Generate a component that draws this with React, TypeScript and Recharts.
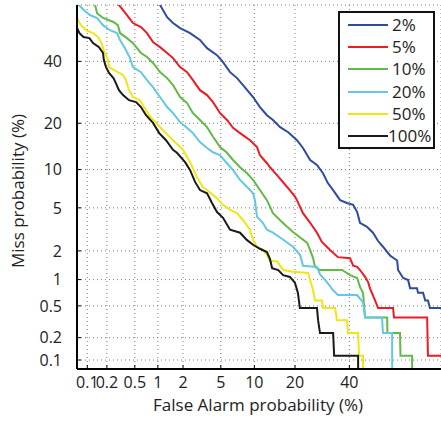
import React from 'react';
import { LineChart, Line, XAxis, YAxis, CartesianGrid, Legend } from 'recharts';

const FONT = "'Open Sans', 'Noto Sans', sans-serif";

// Probability tick labels (percent) shared by both axes
const TICKS_PCT = [0.1, 0.2, 0.5, 1, 2, 5, 10, 20, 40];
// Visible ranges (percent)
const FA_RANGE = [0.0683, 77.0];
const MISS_RANGE = [0.0748, 61.1];

const SERIES_LABELS = ['2%', '5%', '10%', '20%', '50%', '100%'];
const SERIES_COLORS = ['#2d4b9f', '#ed1c24', '#63b946', '#64c8e1', '#f0e614', '#1a1a1a'];

// [False Alarm %, Miss %]
const CURVE_2: [number, number][] = [
  [1.0, 62.5], [1.30, 56.6], [1.53, 54.4], [1.85, 52.5], [2.40, 50.6], [3.07, 48.0], [3.64, 44.9],
  [4.59, 42.3], [5.25, 39.7], [6.12, 36.1], [7.09, 34.0], [8.01, 31.6], [9.75, 27.7], [11.1, 24.6],
  [12.6, 22.2], [14.0, 20.9], [15.8, 19.0], [18.0, 17.7], [20.6, 15.8], [22.5, 14.1], [24.9, 11.7],
  [27.3, 10.8], [29.5, 9.4], [31.4, 7.9], [33.4, 7.0], [36.2, 5.8], [39.0, 5.5], [41.6, 5.3],
  [43.3, 4.6], [44.5, 3.7], [47.5, 3.4], [50.1, 3.0], [52.3, 2.5], [54.4, 2.2], [57.4, 1.8],
  [60.4, 1.6], [60.8, 1.27], [62.9, 1.04], [64.9, 0.99], [65.7, 0.80], [68.4, 0.80], [68.8, 0.71],
  [70.7, 0.71], [71.5, 0.58], [72.5, 0.58], [73.2, 0.47], [80, 0.47],
];

const CURVE_5: [number, number][] = [
  [0.27, 62.5], [0.343, 59.2], [0.39, 57.4], [0.472, 54.4], [0.605, 52.9], [0.726, 50.6], [0.868, 47.2],
  [1.064, 45.3], [1.30, 43.1], [1.53, 41.2], [1.85, 37.9], [2.22, 36.1], [2.58, 33.3], [3.07, 29.9],
  [3.64, 28.3], [4.19, 26.1], [4.92, 22.8], [5.73, 20.9], [6.52, 18.8], [7.54, 17.5], [9.2, 15.8],
  [10.5, 14.3], [11.1, 12.6], [12.6, 11.1], [13.3, 10.4], [15.0, 9.1], [17.7, 7.4], [20.0, 6.2],
  [20.6, 5.8], [22.5, 4.5], [24.9, 3.7], [27.3, 3.0], [29.1, 2.45], [32.2, 2.04], [35.3, 1.73],
  [40.3, 1.69], [41.6, 1.41], [43.3, 1.37], [44.5, 1.27], [46.7, 1.07], [48.0, 0.94], [48.8, 0.80],
  [51.0, 0.58], [52.3, 0.47], [58.7, 0.47], [59.1, 0.36], [72.2, 0.36], [72.5, 0.115], [80, 0.115],
];

const CURVE_10: [number, number][] = [
  [0.128, 62.5], [0.142, 58.1], [0.175, 56.3], [0.25, 54.8], [0.29, 53.6], [0.311, 50.6], [0.39, 48.7],
  [0.472, 46.8], [0.605, 43.1], [0.726, 41.6], [0.868, 39.4], [1.064, 36.1], [1.30, 34.0], [1.53, 31.6],
  [1.85, 27.7], [2.22, 25.8], [2.58, 22.8], [3.07, 20.9], [3.64, 19.0], [4.19, 16.6], [4.92, 14.3],
  [5.73, 13.1], [6.52, 11.7], [7.54, 10.4], [8.68, 9.4], [9.75, 8.4], [11.1, 7.0], [12.6, 5.8],
  [14.0, 4.5], [15.8, 3.9], [17.7, 3.4], [19.4, 3.05], [21.6, 2.7], [23.9, 2.4], [24.9, 2.04],
  [25.9, 1.69], [26.6, 1.37], [28.4, 1.27], [37.0, 1.27], [40.3, 1.12], [43.3, 1.04], [44.5, 0.83],
  [45.8, 0.71], [46.7, 0.36], [56.2, 0.36], [56.3, 0.23], [61.6, 0.23], [61.8, 0.115], [66.5, 0.115],
  [66.6, 0.01],
];

const CURVE_20: [number, number][] = [
  [0.062, 62.5], [0.089, 59.2], [0.11, 57.4], [0.142, 56.3], [0.175, 53.6], [0.222, 51.7], [0.281, 50.6],
  [0.311, 48.0], [0.366, 44.9], [0.43, 41.2], [0.472, 37.9], [0.605, 36.1], [0.726, 33.3], [0.868, 30.9],
  [1.064, 27.7], [1.30, 24.6], [1.53, 22.8], [1.85, 20.3], [2.22, 18.8], [2.58, 17.5], [3.07, 15.4],
  [3.64, 14.1], [4.19, 13.2], [4.92, 12.6], [5.73, 11.1], [6.52, 9.9], [7.54, 8.4], [8.68, 7.4],
  [9.75, 6.6], [10.1, 5.8], [10.5, 4.2], [11.7, 3.7], [12.6, 3.2], [14.0, 3.0], [15.8, 2.7],
  [19.4, 2.2], [21.6, 1.82], [22.5, 1.41], [27.3, 1.37], [28.4, 1.14], [31.0, 0.94], [33.4, 0.76],
  [35.3, 0.67], [43.3, 0.67], [45.8, 0.55], [46.7, 0.36], [54.0, 0.36], [54.4, 0.23], [58.3, 0.23],
  [58.4, 0.01],
];

const CURVE_50: [number, number][] = [
  [0.066, 56.8], [0.079, 53.6], [0.095, 51.7], [0.123, 50.6], [0.147, 49.1], [0.163, 47.2], [0.18, 44.2],
  [0.208, 40.5], [0.215, 37.9], [0.255, 36.8], [0.343, 35.1], [0.377, 33.3], [0.416, 29.9], [0.472, 27.7],
  [0.587, 26.7], [0.664, 24.6], [0.77, 22.2], [0.95, 20.1], [1.16, 18.2], [1.33, 17.0], [1.53, 15.8],
  [2.0, 13.7], [2.40, 11.3], [2.85, 8.8], [3.30, 7.4], [3.91, 6.7], [4.59, 6.0], [5.25, 5.3],
  [6.12, 4.8], [7.09, 4.5], [8.01, 3.9], [9.2, 3.2], [9.75, 2.55], [10.5, 2.2], [11.7, 2.04],
  [12.6, 1.82], [13.3, 1.57], [15.0, 1.57], [16.6, 1.27], [19.4, 1.22], [24.2, 1.18], [24.9, 0.99],
  [25.9, 0.76], [26.6, 0.58], [29.1, 0.58], [29.5, 0.47], [34.2, 0.47], [34.9, 0.335], [39.0, 0.335],
  [39.4, 0.23], [43.7, 0.23], [44.1, 0.115], [45.8, 0.115], [45.9, 0.01],
];

const CURVE_100: [number, number][] = [
  [0.066, 53.2], [0.075, 50.6], [0.087, 49.1], [0.108, 48.7], [0.123, 46.8], [0.152, 45.3], [0.175, 43.1],
  [0.18, 40.5], [0.194, 37.9], [0.215, 35.8], [0.25, 34.0], [0.272, 32.2], [0.30, 29.9], [0.343, 28.3],
  [0.416, 26.7], [0.52, 26.1], [0.605, 24.6], [0.705, 22.2], [0.868, 20.1], [1.04, 17.5], [1.26, 15.8],
  [1.53, 13.7], [1.70, 13.1], [2.11, 11.3], [2.40, 9.9], [2.72, 8.1], [3.07, 7.0], [3.64, 6.6],
  [4.09, 5.5], [4.59, 4.6], [5.25, 4.1], [6.12, 3.2], [7.54, 3.0], [8.68, 2.55], [9.75, 2.3],
  [11.1, 2.1], [12.6, 1.95], [13.3, 1.65], [13.8, 1.33], [15.3, 1.27], [16.6, 1.12], [18.5, 1.07],
  [20.0, 0.92], [20.9, 0.71], [21.5, 0.47], [27.3, 0.47], [27.7, 0.335], [28.4, 0.23], [33.4, 0.23],
  [33.8, 0.115], [43.7, 0.115], [43.8, 0.01],
];

const CURVES = [CURVE_2, CURVE_5, CURVE_10, CURVE_20, CURVE_50, CURVE_100];

// Inverse standard normal CDF (Acklam) of a percentage -> normal deviate
function probit(pct: number): number {
  const p = pct / 100;
  const a = [-3.969683028665376e1, 2.209460984245205e2, -2.759285104469687e2, 1.38357751867269e2, -3.066479806614716e1, 2.506628277459239];
  const b = [-5.447609879822406e1, 1.615858368580409e2, -1.556989798598866e2, 6.680131188771972e1, -1.328068155288572e1];
  const c = [-7.784894002430293e-3, -3.223964580411365e-1, -2.400758277161838, -2.549671084234276, 4.374664141464968, 2.938163982698783];
  const d = [7.784695709041462e-3, 3.224671290700398e-1, 2.445134137142996, 3.754408661907416];
  const pLow = 0.02425;
  if (p < pLow) {
    const q = Math.sqrt(-2 * Math.log(p));
    return (((((c[0] * q + c[1]) * q + c[2]) * q + c[3]) * q + c[4]) * q + c[5]) / ((((d[0] * q + d[1]) * q + d[2]) * q + d[3]) * q + 1);
  }
  if (p <= 1 - pLow) {
    const q = p - 0.5;
    const r = q * q;
    return ((((((a[0] * r + a[1]) * r + a[2]) * r + a[3]) * r + a[4]) * r + a[5]) * q) / (((((b[0] * r + b[1]) * r + b[2]) * r + b[3]) * r + b[4]) * r + 1);
  }
  const q = Math.sqrt(-2 * Math.log(1 - p));
  return -(((((c[0] * q + c[1]) * q + c[2]) * q + c[3]) * q + c[4]) * q + c[5]) / ((((d[0] * q + d[1]) * q + d[2]) * q + d[3]) * q + 1);
}

const toPoints = (curve: [number, number][]) => curve.map(([fa, miss]) => ({ x: probit(fa), y: probit(miss) }));
const SERIES_DATA = CURVES.map(toPoints);

const TICK_VALUES = TICKS_PCT.map(probit);
const X_DOMAIN = [probit(FA_RANGE[0]), probit(FA_RANGE[1])];
const Y_DOMAIN = [probit(MISS_RANGE[0]), probit(MISS_RANGE[1])];

const fmtTick = (v: number) => {
  const i = TICK_VALUES.findIndex((t) => Math.abs(t - v) < 1e-6);
  return i >= 0 ? String(TICKS_PCT[i]) : '';
};

const tickStyle = { fill: '#222', fontSize: 16, fontFamily: FONT };

const XTitle = (props: any) => {
  const vb = props.viewBox || { x: 77, y: 369, width: 364, height: 54 };
  return (
    <text x={vb.x + vb.width / 2 - 1} y={vb.y + 42} textAnchor="middle" fill="#222" fontSize={17} fontFamily={FONT}>
      False Alarm probability (%)
    </text>
  );
};

const YTitle = (props: any) => {
  const vb = props.viewBox || { x: 0, y: 5, width: 77, height: 364 };
  const cx = vb.x + 24;
  const cy = vb.y + vb.height / 2 + 4;
  return (
    <text x={cx} y={cy} transform={`rotate(-90 ${cx} ${cy})`} textAnchor="middle" fill="#222" fontSize={17} fontFamily={FONT}>
      Miss probability (%)
    </text>
  );
};

const LegendBox = () => (
  <div
    style={{
      boxSizing: 'border-box',
      width: 97,
      height: 138,
      border: '2px solid #111',
      background: '#fff',
      paddingTop: 1,
      fontFamily: FONT,
      fontSize: 17,
      color: '#222',
    }}
  >
    {SERIES_LABELS.map((label, i) => (
      <div key={label} style={{ height: 22.2, display: 'flex', alignItems: 'center' }}>
        <div style={{ marginLeft: 8, width: 40, height: 2, background: SERIES_COLORS[i] }} />
        <span style={{ marginLeft: label.length > 3 ? 0 : 4, lineHeight: '22px' }}>{label}</span>
      </div>
    ))}
  </div>
);

export default function App() {
  return (
    <div style={{ position: 'absolute', left: 0, top: 0, width: 441, height: 423, background: '#fff' }}>
      <LineChart width={441} height={423} margin={{ top: 5, right: 0, bottom: 0, left: 0 }}>
        <CartesianGrid stroke="#7a7a7a" strokeDasharray="1 3" />
        <XAxis
          type="number"
          dataKey="x"
          domain={X_DOMAIN}
          allowDataOverflow
          ticks={TICK_VALUES}
          interval={0}
          height={54}
          tickSize={-4}
          tickMargin={12}
          tickFormatter={fmtTick}
          axisLine={{ stroke: '#000', strokeWidth: 2 }}
          tickLine={{ stroke: '#000' }}
          tick={tickStyle}
          label={{ content: XTitle }}
        />
        <XAxis
          xAxisId="top"
          orientation="top"
          type="number"
          domain={X_DOMAIN}
          allowDataOverflow
          ticks={TICK_VALUES}
          interval={0}
          height={0}
          tickSize={-4}
          tick={false}
          axisLine={{ stroke: '#000', strokeWidth: 1.5 }}
          tickLine={{ stroke: '#000' }}
        />
        <YAxis
          type="number"
          dataKey="y"
          domain={Y_DOMAIN}
          allowDataOverflow
          ticks={TICK_VALUES}
          interval={0}
          width={77}
          tickSize={-4}
          tickMargin={19}
          tickFormatter={fmtTick}
          axisLine={{ stroke: '#000', strokeWidth: 2 }}
          tickLine={{ stroke: '#000' }}
          tick={tickStyle}
          label={{ content: YTitle }}
        />
        <YAxis
          yAxisId="right"
          orientation="right"
          type="number"
          domain={Y_DOMAIN}
          allowDataOverflow
          ticks={TICK_VALUES}
          interval={0}
          width={0}
          tickSize={-4}
          tick={false}
          axisLine={false}
          tickLine={{ stroke: '#000' }}
        />
        {SERIES_DATA.map((data, i) => (
          <Line
            key={SERIES_LABELS[i]}
            name={SERIES_LABELS[i]}
            data={data}
            dataKey="y"
            type="linear"
            stroke={SERIES_COLORS[i]}
            strokeWidth={2}
            dot={false}
            activeDot={false}
            isAnimationActive={false}
          />
        ))}
        <Legend
          layout="vertical"
          align="center"
          verticalAlign="middle"
          wrapperStyle={{ position: 'absolute', left: 338, top: 11, width: 97, height: 138, margin: 0, padding: 0 }}
          content={() => <LegendBox />}
        />
      </LineChart>
    </div>
  );
}
